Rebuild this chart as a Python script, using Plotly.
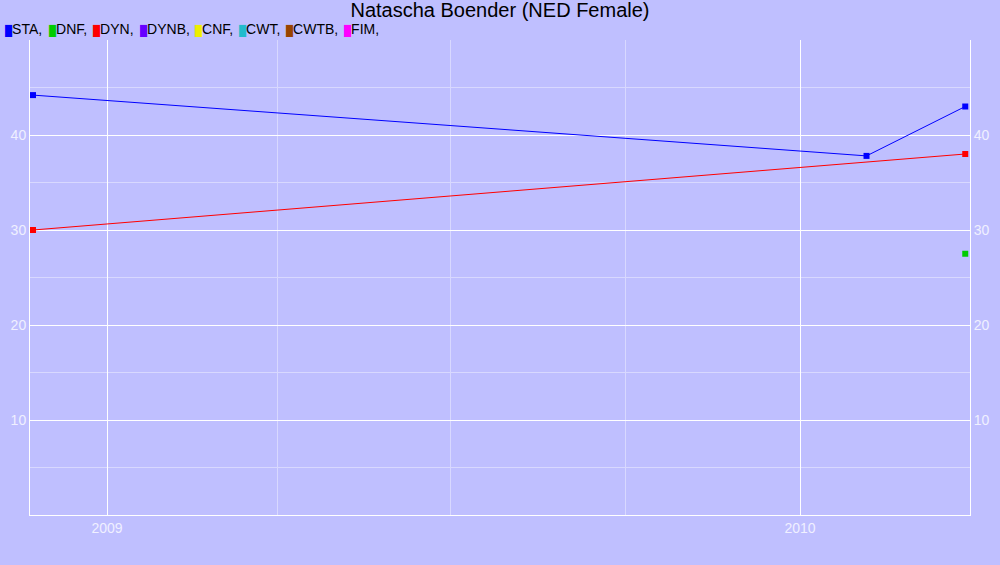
import plotly.graph_objects as go

# ---- data ----
sta_dates = ["2008-11-23", "2010-02-05", "2010-03-29"]
sta_values = [44.2, 37.8, 43.0]
dyn_dates = ["2008-11-23", "2010-03-29"]
dyn_values = [30.0, 38.0]
dnf_dates = ["2010-03-29"]
dnf_values = [27.5]

legend_names = ["STA", "DNF", "DYN", "DYNB", "CNF", "CWT", "CWTB", "FIM"]
legend_colors = ["#0000ff", "#00cc00", "#ff0000", "#6600ff", "#eeee00", "#22bbcc", "#994400", "#ff00ff"]
legend_px = [5, 49, 93, 140, 195, 239, 286, 344]

y_ticks = [10, 20, 30, 40]
y_minor = [5, 15, 25, 35, 45]
x_ticks = ["2009-01-01", "2010-01-01"]
x_ticklabels = ["2009", "2010"]

BG = "#bfbfff"
ML, MR, MT, MB = 30, 30, 40, 50
W, H = 1000, 565
PW = W - ML - MR
PH = H - MT - MB

fig = go.Figure()
fig.add_trace(go.Scatter(x=sta_dates, y=sta_values, mode="lines+markers",
                         line=dict(color=legend_colors[0], width=1),
                         marker=dict(symbol="square", size=6, color=legend_colors[0]),
                         name="STA", showlegend=False))
fig.add_trace(go.Scatter(x=dyn_dates, y=dyn_values, mode="lines+markers",
                         line=dict(color=legend_colors[2], width=1),
                         marker=dict(symbol="square", size=6, color=legend_colors[2]),
                         name="DYN", showlegend=False))
fig.add_trace(go.Scatter(x=dnf_dates, y=dnf_values, mode="markers",
                         marker=dict(symbol="square", size=6, color=legend_colors[1]),
                         name="DNF", showlegend=False))
# invisible trace to activate right axis
fig.add_trace(go.Scatter(x=dyn_dates, y=dyn_values, mode="markers", yaxis="y2",
                         marker=dict(opacity=0), hoverinfo="skip", showlegend=False))

annotations = []
for name, color, px in zip(legend_names, legend_colors, legend_px):
    annotations.append(dict(
        text=f"<span style='color:{color};font-size:10px'>█</span>{name},",
        xref="paper", yref="paper",
        x=(px - ML) / PW, y=(H - MB - 29) / PH,
        xanchor="left", yanchor="middle", showarrow=False, xshift=-2,
        font=dict(family="Liberation Sans, Arial", size=14, color="#000000"),
    ))

tickfont = dict(family="Liberation Sans, Arial", size=14, color="#f0f0ff")
fig.update_layout(
    width=W, height=H,
    margin=dict(l=ML, r=MR, t=MT, b=MB),
    paper_bgcolor=BG, plot_bgcolor=BG,
    title=dict(text="Natascha Boender (NED Female)", x=0.5, xanchor="center",
               y=1 - 10 / H, yanchor="middle",
               font=dict(family="Liberation Sans, Arial", size=20, color="#000000")),
    showlegend=False,
    annotations=annotations,
    xaxis=dict(type="date", range=["2008-11-21 10:00", "2010-03-31 12:00"],
               tickvals=x_ticks, ticktext=x_ticklabels, tickfont=tickfont,
               showgrid=True, gridcolor="#ffffff", gridwidth=1,
               minor=dict(dtick="M3", tick0="2009-01-01", showgrid=True, gridcolor="#d8d8ff", gridwidth=1),
               showline=True, linecolor="#ffffff", linewidth=1, zeroline=False,
               ticks="", automargin=False),
    yaxis=dict(range=[0, 50], tickvals=y_ticks, tickfont=tickfont, automargin=False,
               showgrid=True, gridcolor="#ffffff", gridwidth=1,
               minor=dict(tickvals=y_minor, showgrid=True, gridcolor="#d8d8ff", gridwidth=1),
               showline=True, linecolor="#ffffff", linewidth=1, zeroline=False, ticks=""),
    yaxis2=dict(range=[0, 50], tickvals=y_ticks, tickfont=tickfont, overlaying="y", side="right",
                automargin=False,
                showgrid=False, showline=True, linecolor="#ffffff", linewidth=1, zeroline=False, ticks=""),
)

fig.write_html("out.html", config={"displayModeBar": False},
               post_script="document.body.style.margin='0';document.body.style.padding='0';")
